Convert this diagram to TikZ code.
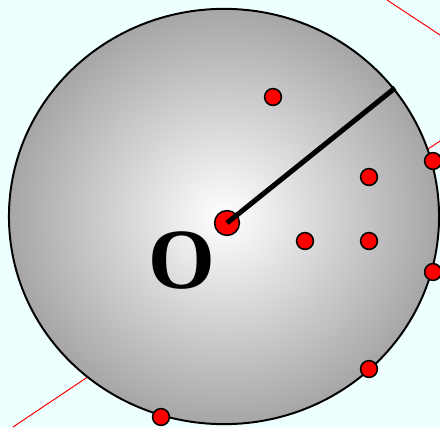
\documentclass[tikz,border=0pt]{standalone}
\usepackage{tikz}
\usepackage{fontspec}
\newfontfamily\lblfont{Liberation Serif}
\usetikzlibrary{positioning, calc}
\definecolor{bgcyan}{HTML}{EEFFFF}
\definecolor{ballgray}{HTML}{A6A6A6}
\definecolor{ptred}{HTML}{FF0000}
\tikzset{
  ball/.style={draw=black, line width=1.4pt, shading=radial,
               inner color=white, outer color=ballgray},
  pt/.style={circle, draw=black, fill=ptred, line width=1.1pt,
             minimum size=0.42cm, inner sep=0pt},
  bigpt/.style={pt, minimum size=0.62cm},
  radline/.style={line width=3.6pt, black},
  redline/.style={ptred, line width=0.7pt},
}
\begin{document}
\begin{tikzpicture}[x=0.025cm, y=-0.025cm]
  \useasboundingbox[fill=bgcyan] (0,0) rectangle (440,427);

  % the two red lines, behind the ball
  \coordinate (la) at (13,427);
  \coordinate (lb) at (440,141);
  \coordinate (lc) at (387,0);
  \coordinate (ld) at (440,35);
  \draw[redline] (la) -- (lb);
  \draw[redline] (lc) -- (ld);

  % the ball
  \draw[ball] (224,216.5) ellipse [x radius=5.375cm, y radius=5.19cm];

  % centre and radius
  \node[bigpt] (ctr) at (227,223) {};
  \coordinate (rim) at (395,88);
  \draw[radline] (ctr.center) -- (rim);
  \node[inner sep=0pt, font=\lblfont\fontsize{61}{61}\selectfont\bfseries]
    (lblO) at (182,261) {O};

  % points inside
  \node[pt] (p1) at (273,97) {};
  \node[pt] (p2) at (369,177) {};
  \node[pt] (p3) at (305,241) {};
  \node[pt] (p4) at (369,241) {};

  % points on the rim
  \node[pt] (q1) at (433,161) {};
  \node[pt] (q2) at (433,272) {};
  \node[pt] (q3) at (369,369) {};
  \node[pt] (q4) at (161,417) {};
\end{tikzpicture}
\end{document}
